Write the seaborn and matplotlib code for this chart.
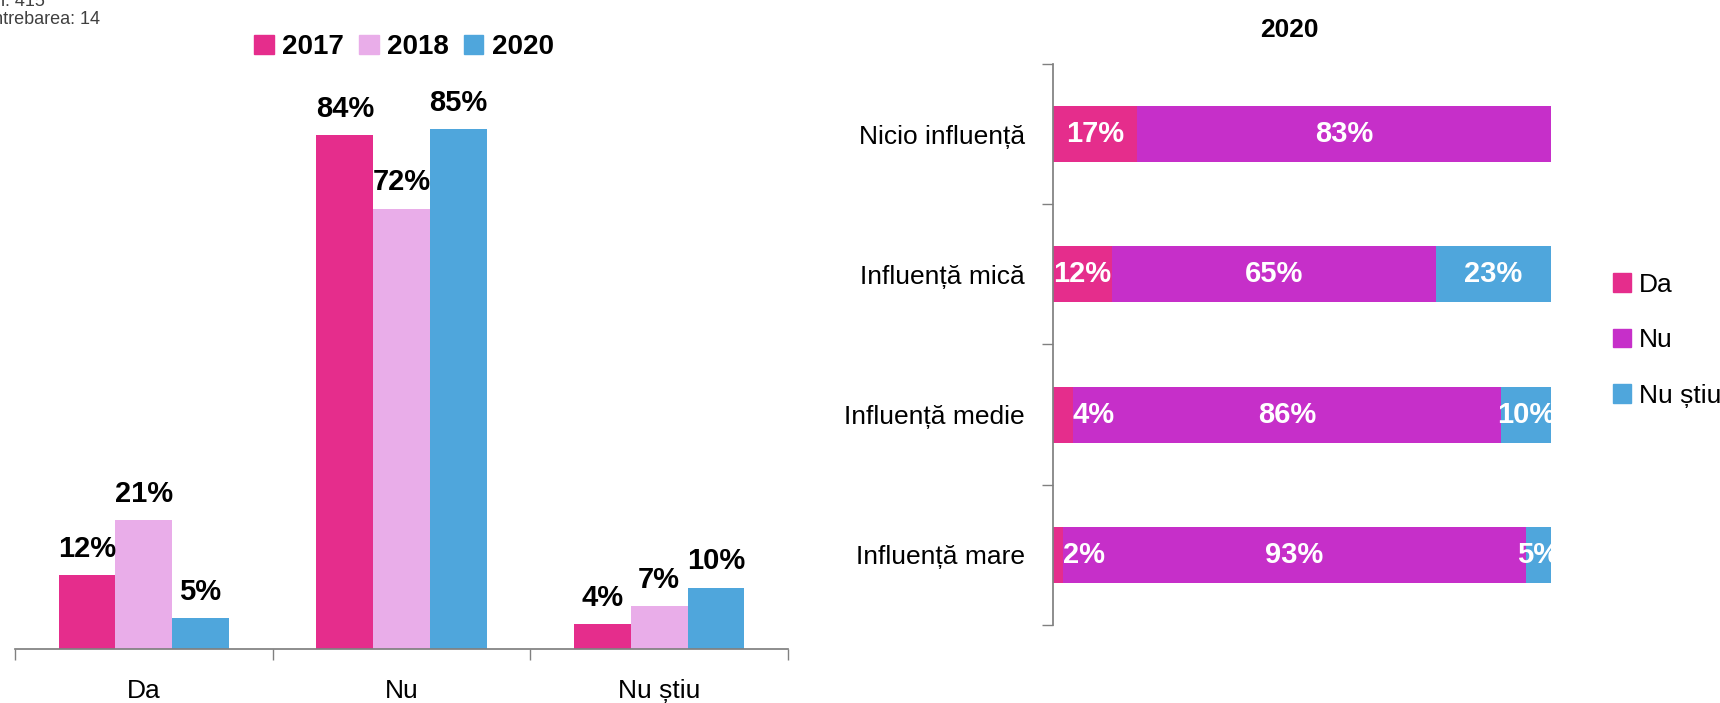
import pandas as pd
import seaborn as sns
import matplotlib.pyplot as plt

# left chart: Da / Nu / Nu stiu by year
answers = ["Da", "Nu", "Nu știu"]
years = ["2017", "2018", "2020"]
vals_2017 = [12, 84, 4]
vals_2018 = [21, 72, 7]
vals_2020 = [5, 85, 10]

# right chart: 2020 by influence level
levels = ["Nicio influență", "Influență mică", "Influență medie", "Influență mare"]
da = [17, 12, 4, 2]
nu = [83, 65, 86, 93]
nu_stiu = [0, 23, 10, 5]

year_colors = ["#E52D8C", "#E9ADE9", "#4FA6DC"]
seg_colors = ["#E52D8C", "#C62FC9", "#4FA6DC"]

sns.set_theme(style="white")
plt.rcParams["font.family"] = ["Liberation Sans Narrow", "Liberation Sans", "DejaVu Sans"]
plt.rcParams["text.color"] = "black"
plt.rcParams["xtick.color"] = "black"
plt.rcParams["ytick.color"] = "black"

df = pd.DataFrame({
    "answer": answers * 3,
    "year": [y for y in years for _ in answers],
    "value": vals_2017 + vals_2018 + vals_2020,
})

fig = plt.figure(figsize=(17.2, 7.03), dpi=100)

# ---- left chart
ax1 = fig.add_axes([0.0087, 0.077, 0.4495, 0.87])
sns.barplot(data=df, x="answer", y="value", hue="year", palette=year_colors,
            width=0.66, saturation=1, linewidth=0, ax=ax1, legend=False)
ax1.set_ylim(0, 100)
ax1.set_xlim(-0.5, 2.5)
ax1.set_xlabel("")
ax1.set_ylabel("")
ax1.set_yticks([])
for s in ["top", "right", "left"]:
    ax1.spines[s].set_visible(False)
ax1.spines["bottom"].set_color("#808080")
ax1.set_xticks([0, 1, 2])
ax1.set_xticklabels(answers, fontsize=19)
ax1.tick_params(axis="x", length=0, pad=22)
ax1.set_xticks([-0.5, 0.5, 1.5, 2.5], minor=True)
ax1.tick_params(axis="x", which="minor", length=8, color="#808080", direction="out", bottom=True)
for cont in ax1.containers:
    ax1.bar_label(cont, labels=[f"{v:.0f}%" for v in cont.datavalues],
                  padding=9, fontsize=21, fontweight="bold")

handles = [plt.Rectangle((0, 0), 1, 1, color=c) for c in year_colors]
fig.legend(handles, years, loc="center", bbox_to_anchor=(404 / 1720, 1 - 47 / 703),
           ncol=3, frameon=False, handlelength=0.7, handleheight=0.7,
           columnspacing=0.55, handletextpad=0.3,
           prop={"size": 20, "weight": "bold"})

# ---- right chart
ax2 = fig.add_axes([0.612, 0.111, 0.2897, 0.798])
ypos = list(range(len(levels)))
left = [0] * len(levels)
for series, color in zip([da, nu, nu_stiu], seg_colors):
    ax2.barh(ypos, series, left=left, height=0.4, color=color, edgecolor="none")
    for i, (v, l) in enumerate(zip(series, left)):
        if v == 0:
            continue
        if v < 8 and series is da:
            ax2.text(l + v, i, f"{v}%", ha="left", va="center", color="white",
                     fontsize=21, fontweight="bold")
        else:
            ax2.text(l + v / 2, i, f"{v}%", ha="center", va="center", color="white",
                     fontsize=21, fontweight="bold")
    left = [a + b for a, b in zip(left, series)]

ax2.set_xlim(0, 100)
ax2.set_ylim(3.5, -0.5)
ax2.set_xticks([])
ax2.set_yticks(ypos)
ax2.set_yticklabels(levels, fontsize=19)
ax2.tick_params(axis="y", length=0, pad=20)
ax2.set_yticks([-0.5, 0.5, 1.5, 2.5, 3.5], minor=True)
ax2.tick_params(axis="y", which="minor", length=8, color="#808080", direction="out", left=True)
for s in ["top", "right", "bottom"]:
    ax2.spines[s].set_visible(False)
ax2.spines["left"].set_color("#808080")
fig.text(1289 / 1720, 1 - 30 / 703, "2020", fontsize=19, fontweight="bold",
         ha="center", va="center")

handles2 = [plt.Rectangle((0, 0), 1, 1, color=c) for c in seg_colors]
fig.legend(handles2, ["Da", "Nu", "Nu știu"], loc="upper left",
           bbox_to_anchor=(1602 / 1720, 1 - 262 / 703), frameon=False,
           handlelength=0.7, handleheight=0.7, handletextpad=0.3,
           labelspacing=1.2, borderaxespad=0, prop={"size": 19})

# cropped notes in the top-left corner
fig.text(-0.003, 1 - 1 / 703, "n: 415", fontsize=13, color="#404040", va="center")
fig.text(-0.007, 1 - 20 / 703, "Întrebarea: 14", fontsize=13, color="#404040", va="center")

fig.savefig("out.png", dpi=100)
